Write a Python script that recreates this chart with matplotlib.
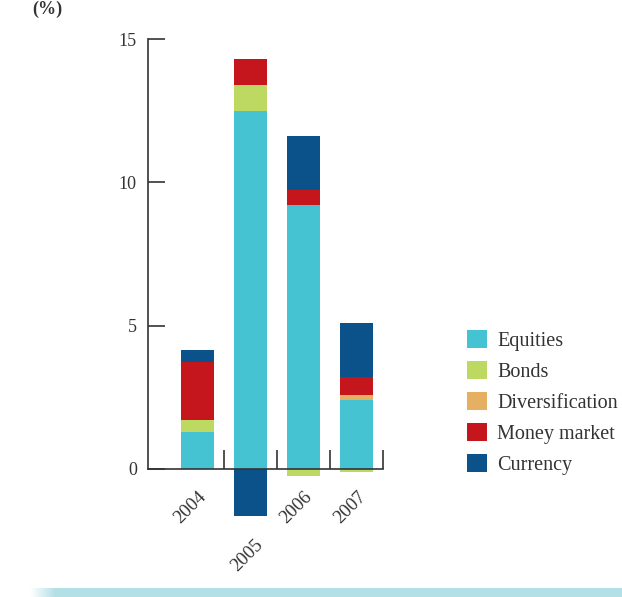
import numpy as np
import matplotlib
matplotlib.use("agg")
import matplotlib.pyplot as plt
from matplotlib.patches import Patch
from matplotlib.colors import LinearSegmentedColormap

plt.rcParams['font.family'] = ['Liberation Serif', 'DejaVu Serif']

years = ['2004', '2005', '2006', '2007']
series = ['Equities', 'Bonds', 'Diversification', 'Money market', 'Currency']
equities = [1.3, 12.5, 9.2, 2.4]
bonds = [0.42, 0.9, -0.25, -0.1]
diversification = [0.0, 0.0, 0.0, 0.17]
money_market = [2.0, 0.9, 0.52, 0.63]
currency = [0.42, -1.65, 1.9, 1.88]
colors = ['#45c3d2', '#bdd962', '#e5b062', '#c4161c', '#0b518a']

W, H = 622, 597
fig = plt.figure(figsize=(W / 100, H / 100), dpi=100)
ax = fig.add_axes([148 / W, 1 - 526.3 / H, (383 - 148) / W, (526.3 - 39) / H])

txt = '#333333'
x = np.arange(len(years))
pos_base = np.zeros(len(years))
neg_base = np.zeros(len(years))
for vals, col in zip([equities, bonds, diversification, money_market, currency], colors):
    v = np.array(vals)
    bottom = np.where(v >= 0, pos_base, neg_base)
    ax.bar(x, v, width=0.62, bottom=bottom, color=col, linewidth=0)
    pos_base += np.where(v > 0, v, 0)
    neg_base += np.where(v < 0, v, 0)

ax.set_xlim(-0.934, 3.5)
ax.set_ylim(-2, 15)

for s in ['top', 'right']:
    ax.spines[s].set_visible(False)
ax.spines['left'].set_bounds(0, 15)
ax.spines['bottom'].set_position(('data', 0))
ax.spines['bottom'].set_bounds(-0.934, 3.5)
for s in ['left', 'bottom']:
    ax.spines[s].set_color(txt)
    ax.spines[s].set_linewidth(1.2)
    ax.spines[s].set_zorder(3)

ax.set_yticks([0, 5, 10, 15])
ax.tick_params(axis='y', direction='in', length=12, width=1.2, color=txt,
               labelcolor=txt, labelsize=13, pad=8)
ax.set_xticks([0.5, 1.5, 2.5, 3.5])
ax.set_xticklabels([])
ax.tick_params(axis='x', direction='in', length=14, width=1.2, color=txt)

# year labels, 2005 dropped lower
xoffs = [0.22, 0.3, 0.22, 0.24]
yoffs = [-0.66, -2.34, -0.66, -0.66]
for i, (yr, dx, dy) in enumerate(zip(years, xoffs, yoffs)):
    ax.text(i + dx, dy, yr, rotation=45, ha='right', va='top',
            fontsize=13.5, color=txt, clip_on=False)

handles = [Patch(facecolor=c, edgecolor='none') for c in colors]
fig.legend(handles, series, loc='upper left',
           bbox_to_anchor=(467 / W, 1 - 330 / H), frameon=False,
           fontsize=14.5, handlelength=1.0, handleheight=1.0,
           labelspacing=0.5, handletextpad=0.5, borderpad=0,
           borderaxespad=0, labelcolor=txt)

fig.text(32 / W, 1 - 14 / H, '(%)', fontsize=13, fontweight='bold',
         color=txt, va='baseline', ha='left')

# light band along the bottom edge
band = fig.add_axes([30 / W, 0, 1 - 30 / W, 9 / H])
cmap = LinearSegmentedColormap.from_list('band', ['#ffffff', '#b3e0e6'])
grad = np.clip(np.linspace(0, 1, 600) * 24, 0, 1)[None, :]
band.imshow(grad, aspect='auto', cmap=cmap, extent=(0, 1, 0, 1))
band.axis('off')

fig.savefig('out.png', dpi=100)
